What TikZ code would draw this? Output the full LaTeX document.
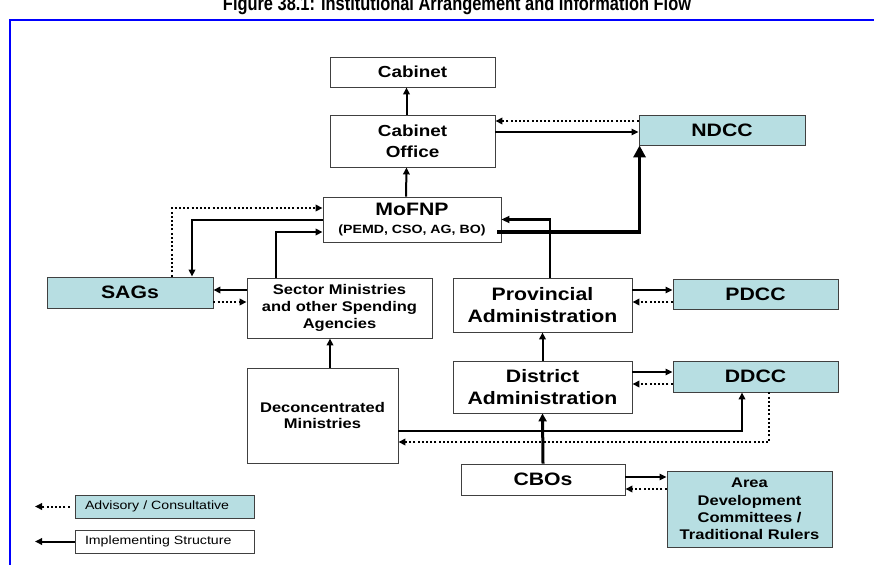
\documentclass[tikz,border=0pt]{standalone}
\usepackage{fontspec}
\usetikzlibrary{arrows.meta,positioning}
\newfontfamily\boxfont{Liberation Sans}[FakeStretch=1.18]
\newfontfamily\titlefont{Liberation Sans}[FakeStretch=0.82]
\definecolor{council}{RGB}{183,222,226}
\definecolor{framecol}{RGB}{0,0,255}
\newcommand*{\boxsize}[2]{\boxfont\bfseries\fontsize{#1}{#2}\selectfont}
\tikzset{orgbox/.style={draw=black!75, line width=0.9pt, fill=white, inner sep=1pt, align=center},
ccbox/.style={orgbox, fill=council},
legbox/.style={orgbox, text width=159pt, align=left, inner xsep=10pt, minimum height=23pt,
  font=\boxfont\fontsize{12}{14}\selectfont}}
\tikzset{flow/.style={line width=2pt, -{Triangle[length=7pt,width=6.5pt]}},
flowthin/.style={flow, line width=1.4pt},
advice/.style={line width=2pt, dash pattern=on 2pt off 2.2pt, -{Triangle[length=7pt,width=6.5pt]}}}

\begin{document}
\begin{tikzpicture}[x=1pt,y=-1pt]
	\useasboundingbox (0,0) rectangle (874,564);
	\node[anchor=base, font=\titlefont\bfseries\fontsize{20}{22}\selectfont] (title) at (457,11) {Figure 38.1: Institutional Arrangement and Information Flow};
	\draw[framecol, line width=2pt] (10,565) -- (10,20) -- (876,20);
	% boxes
	\node[orgbox, minimum width=165pt, minimum height=30pt, font=\boxsize{16}{19}] (cab) at (412.5,72) {Cabinet};
	\node[orgbox, minimum width=165pt, minimum height=52pt, font=\boxsize{16}{21}] (cabo) at (412.5,141) {Cabinet\\Office};
	\node[ccbox, minimum width=166pt, minimum height=30pt, font=\boxsize{18}{20}] (ndcc) at (722,130) {NDCC};
	\node[orgbox, minimum width=178pt, minimum height=45pt, font=\boxsize{18}{19}] (mof) at (412,219.5) {MoFNP\\[-1pt]{\fontsize{12}{13}\selectfont (PEMD, CSO, AG, BO)}};
	\node[ccbox, minimum width=166pt, minimum height=31pt, font=\boxsize{18}{20}] (sags) at (130,292.5) {SAGs};
	\node[orgbox, minimum width=185pt, minimum height=60pt, font=\boxsize{14}{16.7}] (sec) at (339.5,308) {Sector Ministries\\and other Spending\\Agencies};
	\node[orgbox, minimum width=151pt, minimum height=95pt, font=\boxsize{14}{16.7}] (dec) at (322.5,415.5) {Deconcentrated\\Ministries};
	\node[orgbox, minimum width=179pt, minimum height=54pt, font=\boxsize{18}{22}] (prov) at (542.5,305) {Provincial\\Administration};
	\node[ccbox, minimum width=165pt, minimum height=30pt, font=\boxsize{18}{20}] (pdcc) at (755.5,294) {PDCC};
	\node[orgbox, minimum width=179pt, minimum height=52pt, font=\boxsize{18}{22}] (dist) at (542.5,387) {District\\Administration};
	\node[ccbox, minimum width=165pt, minimum height=31pt, font=\boxsize{18}{20}] (ddcc) at (755.5,376.5) {DDCC};
	\node[orgbox, minimum width=164pt, minimum height=31pt, font=\boxsize{18}{20}] (cbo) at (543,479.5) {CBOs};
	\node[ccbox, minimum width=165pt, minimum height=76pt, font=\boxsize{14}{17.3}] (area) at (749.5,509) {Area\\Development\\Committees /\\Traditional Rulers};
	% legend
	\node[legbox, fill=council] (legadv) at (164.5,506.5) {Advisory / Consultative};
	\node[legbox] (legimp) at (164.5,541.5) {Implementing Structure};
	\coordinate (advtip) at (35,506.5);
	\coordinate (imptip) at (35,541.5);
	\draw[advice] ([xshift=-5pt]legadv.west) -- (advtip);
	\draw[flow] (legimp.west) -- (imptip);
	% top of the hierarchy
	\draw[flow] ([xshift=-6pt]cabo.north) -- ([xshift=-6pt]cab.south);
	\draw[flow] ([xshift=-6pt]mof.north) -- ([xshift=-6pt]cabo.south);
	\draw[advice] ([yshift=9pt]ndcc.west) -- ([yshift=9pt]ndcc.west -| cabo.east);
	\draw[flowthin] ([yshift=-2pt]ndcc.west -| cabo.east) -- ([yshift=-2pt]ndcc.west);
	\draw[line width=3.5pt, -{Triangle[length=12pt,width=12pt]}] ([yshift=-12.5pt,xshift=-4pt]mof.east) -| ([xshift=1pt]ndcc.south west);
	\draw[line width=2.5pt, -{Triangle[length=8pt,width=7pt]}] ([xshift=7.5pt]prov.north) |- (mof.east);
	% MoFNP, SAGs and sector ministries
	\draw[flow] (mof.west) -| ([xshift=62pt]sags.north);
	\draw[advice] ([xshift=42pt]sags.north) |- ([yshift=11.5pt]mof.west);
	\draw[flow] ([xshift=-63.5pt]sec.north) |- ([yshift=-12.5pt]mof.west);
	\draw[flow] ([yshift=2.5pt]sags.east -| sec.west) -- ([yshift=2.5pt]sags.east);
	\draw[advice] ([yshift=-9.5pt]sags.east) -- ([yshift=-9.5pt]sags.east -| sec.west);
	\draw[flow] ([xshift=7.5pt]dec.north) -- ([xshift=7.5pt]dec.north |- sec.south);
	% provincial and district level
	\draw[flow] (dist.north) -- (prov.south);
	\draw[flowthin] ([yshift=4pt]pdcc.west -| prov.east) -- ([yshift=4pt]pdcc.west);
	\draw[advice] ([yshift=-8pt]pdcc.west) -- ([yshift=-8pt]pdcc.west -| prov.east);
	\draw[flowthin] ([yshift=4.5pt]ddcc.west -| dist.east) -- ([yshift=4.5pt]ddcc.west);
	\draw[advice] ([yshift=-7.5pt]ddcc.west) -- ([yshift=-7.5pt]ddcc.west -| dist.east);
	\draw[line width=3pt, -{Triangle[length=8pt,width=8pt]}] (cbo.north) -- (dist.south);
	\draw[flow] ([yshift=-15.5pt]dec.east) -| ([xshift=-13.5pt]ddcc.south);
	\draw[advice] ([xshift=13.5pt]ddcc.south) |- ([yshift=-26.5pt]dec.east);
	% community level
	\draw[flowthin] ([yshift=32pt]area.west -| cbo.east) -- ([yshift=32pt]area.west);
	\draw[advice] ([yshift=20pt]area.west) -- ([yshift=20pt]area.west -| cbo.east);
\end{tikzpicture}
\end{document}
